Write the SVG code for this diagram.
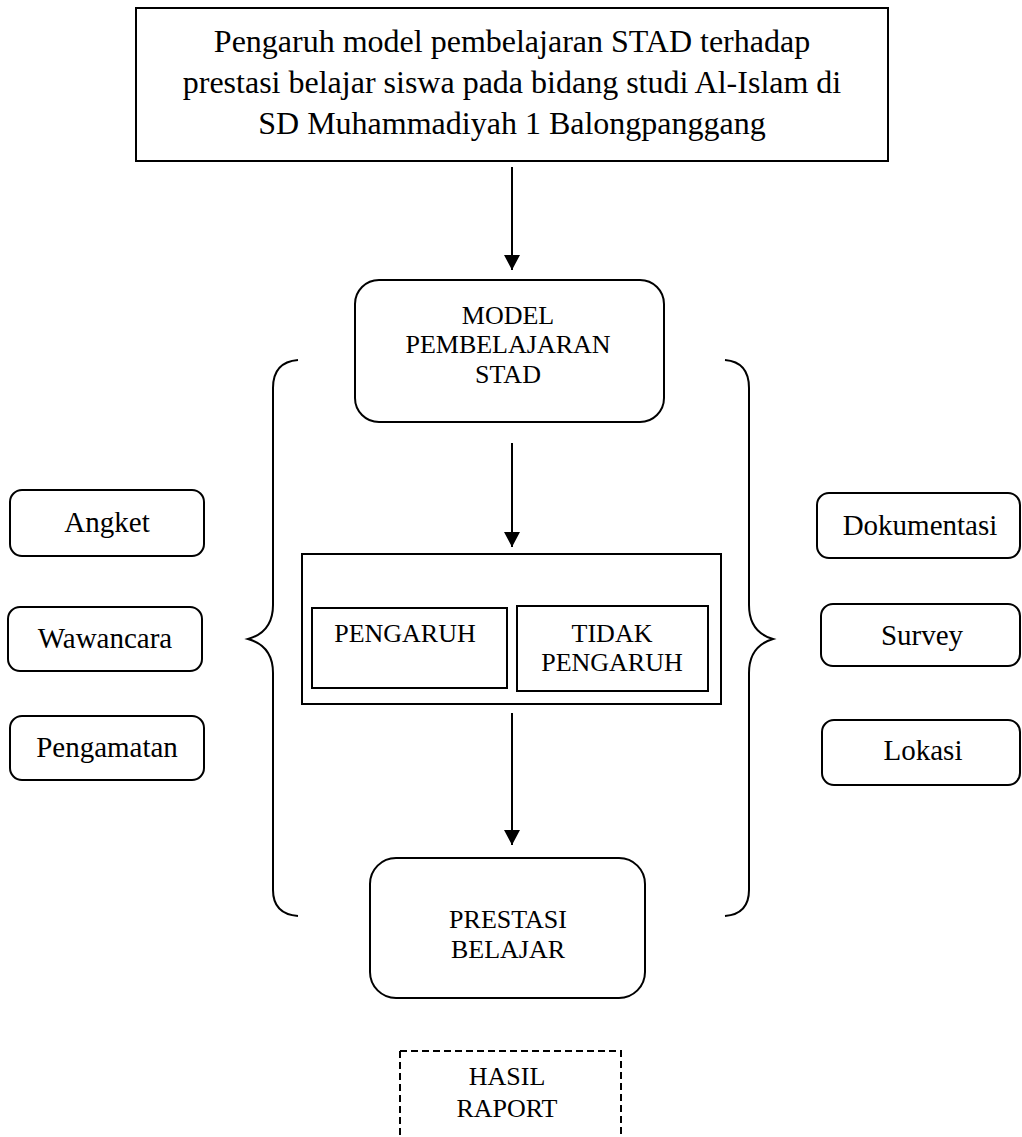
<svg xmlns="http://www.w3.org/2000/svg" width="1022" height="1137" viewBox="0 0 1022 1137">
<style>
.b{fill:#fff;stroke:#000;stroke-width:2}
.l{fill:none;stroke:#000;stroke-width:2}
text{font-family:"Liberation Serif","Times New Roman",serif;fill:#000;text-anchor:middle}
.t1{font-size:32px}
.t2{font-size:26px}
.t3{font-size:29px}
</style>
<defs>
<marker id="ah" markerWidth="16" markerHeight="16" refX="15" refY="8" orient="auto" markerUnits="userSpaceOnUse">
<path d="M0,0 L15,8 L0,16 Z" fill="#000"/>
</marker>
</defs>
<rect width="1022" height="1137" fill="#fff"/>
<g id="connectors">
<line class="l" x1="512" y1="167" x2="512" y2="270" marker-end="url(#ah)"/>
<line class="l" x1="512" y1="443" x2="512" y2="547" marker-end="url(#ah)"/>
<line class="l" x1="512" y1="713" x2="512" y2="845" marker-end="url(#ah)"/>
<path id="brace-left" class="l" d="M298,360 Q273,362 273,388 L273,605 Q273,632 248,639 Q273,646 273,673 L273,890 Q273,914 298,916"/>
<path id="brace-right" class="l" d="M725,360 Q749,362 749,388 L749,605 Q749,632 773,639 Q749,646 749,673 L749,890 Q749,914 725,916"/>
</g>
<g id="title">
<rect class="b" x="136" y="8" width="752" height="153"/>
<text class="t1" x="512" y="52">Pengaruh model pembelajaran STAD terhadap</text>
<text class="t1" x="512" y="93">prestasi belajar siswa pada bidang studi Al-Islam di</text>
<text class="t1" x="512" y="134">SD Muhammadiyah 1 Balongpanggang</text>
</g>
<g id="model">
<rect class="b" x="355" y="280" width="309" height="142" rx="24"/>
<text class="t2" x="508" y="324">MODEL</text>
<text class="t2" x="508" y="353">PEMBELAJARAN</text>
<text class="t2" x="508" y="383">STAD</text>
</g>
<g id="result-box">
<rect class="b" x="302" y="554" width="419" height="150"/>
</g>
<g id="pengaruh">
<rect class="b" x="312" y="608" width="195" height="80"/>
<text class="t2" x="405" y="642">PENGARUH</text>
</g>
<g id="tidak-pengaruh">
<rect class="b" x="517" y="606" width="191" height="85"/>
<text class="t2" x="612" y="642">TIDAK</text>
<text class="t2" x="612" y="671">PENGARUH</text>
</g>
<g id="prestasi">
<rect class="b" x="370" y="858" width="275" height="140" rx="26"/>
<text class="t2" x="508" y="928">PRESTASI</text>
<text class="t2" x="508" y="958">BELAJAR</text>
</g>
<g id="hasil-raport">
<path d="M400,1051 L621,1051 L621,1137 M400,1051 L400,1137" fill="none" stroke="#000" stroke-width="2" stroke-dasharray="7,4"/>
<text class="t2" x="507" y="1085">HASIL</text>
<text class="t2" x="507" y="1117">RAPORT</text>
</g>
<g id="angket"><rect class="b" x="10" y="490" width="194" height="66" rx="12"/><text class="t3" x="107" y="532">Angket</text></g>
<g id="wawancara"><rect class="b" x="8" y="607" width="194" height="64" rx="12"/><text class="t3" x="105" y="648">Wawancara</text></g>
<g id="pengamatan"><rect class="b" x="10" y="716" width="194" height="64" rx="12"/><text class="t3" x="107" y="757">Pengamatan</text></g>
<g id="dokumentasi"><rect class="b" x="817" y="493" width="203" height="65" rx="12"/><text class="t3" x="920" y="535">Dokumentasi</text></g>
<g id="survey"><rect class="b" x="821" y="604" width="199" height="62" rx="12"/><text class="t3" x="922" y="645">Survey</text></g>
<g id="lokasi"><rect class="b" x="822" y="720" width="198" height="65" rx="12"/><text class="t3" x="923" y="760">Lokasi</text></g>
</svg>
